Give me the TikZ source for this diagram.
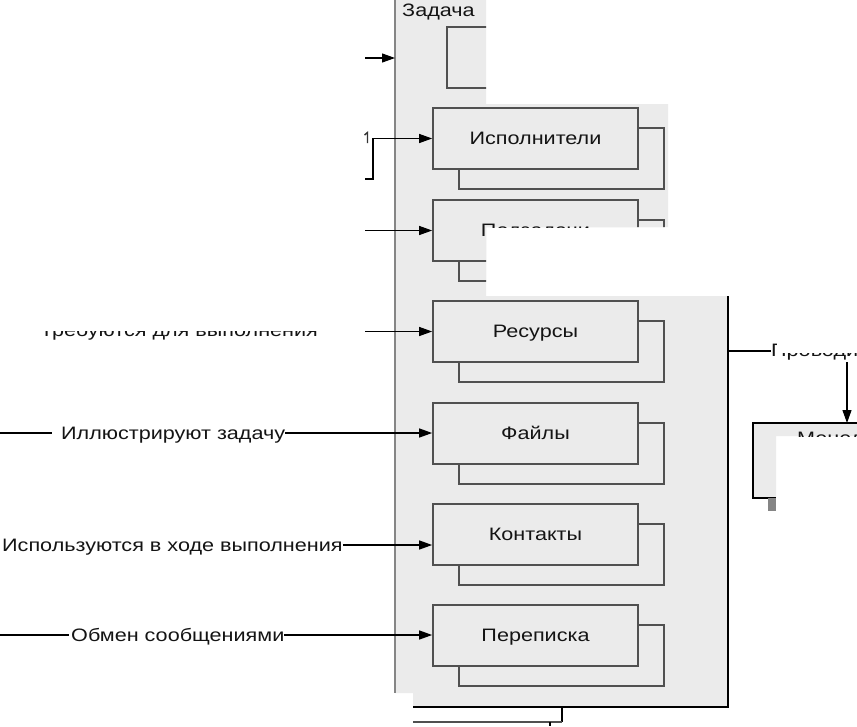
\documentclass[tikz,border=0pt]{standalone}
\usepackage{fontspec}
\setmainfont[FakeStretch=1.2]{Liberation Sans}
\usetikzlibrary{arrows.meta}
\definecolor{panelgrey}{HTML}{EBEBEB}
\definecolor{boxline}{HTML}{505050}
\definecolor{edgegrey}{HTML}{858585}
\begin{document}
\begin{tikzpicture}[x=1pt,y=-1pt,
  lbl/.style={font=\fontsize{18}{18}\selectfont, text=black!92, inner sep=0pt},
  frontbox/.style={draw=boxline, line width=1.7pt, fill=panelgrey, minimum width=205pt, minimum height=61pt, inner sep=0pt, text height=13pt, text depth=2pt, text=black!92, font=\fontsize{18}{18}\selectfont},
  backbox/.style={draw=boxline, line width=1.7pt, fill=panelgrey, minimum width=205pt, minimum height=61pt, inner sep=0pt},
  arr/.style={-{Triangle[length=13pt,width=9pt]}, line width=1.2pt, black},
  wire/.style={line width=1.2pt, black},
]
\useasboundingbox (0,0) rectangle (857,726);
\fill[white] (0,0) rectangle (857,726);

% grey panel (visible part)
\def\panelpath{(395,0) -- (486,0) -- (486,104) -- (668,104) -- (668,227) -- (486,227) -- (486,296) -- (728,296) -- (728,707) -- (413,707) -- (413,693) -- (395,693) -- cycle}
\fill[panelgrey] \panelpath;

\begin{scope}
  \clip \panelpath;
  % top box (cut)
  \draw[boxline, line width=1.7pt] (600,27) -- (447,27) -- (447,88) -- (600,88);
  % Исполнители
  \node[backbox] at (561.5,158.5) {};
  \node[frontbox] (isp) at (535.5,138.5) {Исполнители};
  % Подзадачи
  \node[backbox] at (561.5,250.5) {};
  \node[frontbox] (sub) at (535.5,230.5) {Подзадачи};
  % Ресурсы
  \node[backbox] at (561.5,351.5) {};
  \node[frontbox] (res) at (535.5,331.5) {Ресурсы};
  % Файлы
  \node[backbox] at (561.5,453.5) {};
  \node[frontbox] (files) at (535.5,433.5) {Файлы};
  % Контакты
  \node[backbox] at (561.5,554.5) {};
  \node[frontbox] (cont) at (535.5,534.5) {Контакты};
  % Переписка
  \node[backbox] at (561.5,655.5) {};
  \node[frontbox] (mail) at (535.5,635.5) {Переписка};
\end{scope}

% panel edges
\draw[edgegrey, line width=2pt] (395,0) -- (395,693);
\draw[wire] (413,707) -- (728,707) -- (728,296);
\node[lbl, anchor=base west] (zad) at (402,16) {Задача};

% bottom connector fragments
\coordinate (bt) at (562,707);
\coordinate (bk) at (562,722);
\coordinate (bl) at (413,722);
\draw[wire] (bt) -- (bk);
\draw[boxline, line width=1.7pt] (bk) -- (bl);
\coordinate (tk1) at (550,722);
\coordinate (tk2) at (550,726);
\draw[wire] (tk1) -- (tk2);

% top inputs
\coordinate (a0) at (365,58);
\coordinate (pl) at (395,58);
\draw[arr] (a0) -- (pl);

\coordinate (a1) at (365,179);
\coordinate (a1k) at (373,179);
\draw[arr] (a1) -- (a1k) |- (isp.west);
\draw[line width=1.4pt, black!80] (364.5,135) -- (367.5,132.5) -- (367.5,143);

\coordinate (a2) at (365,230.5);
\draw[arr] (a2) -- (sub.west);

% Требуются для выполнения (mostly hidden)
\begin{scope}
  \clip (0,331) rectangle (365,345);
  \node[lbl, anchor=base west] (treb) at (40,336) {Требуются для выполнения};
\end{scope}
\coordinate (a3) at (365,331.5);
\draw[arr] (a3) -- (res.west);

% Иллюстрируют задачу
\node[lbl, anchor=base west] (t1) at (61,439) {Иллюстрируют задачу};
\coordinate (f1) at (0,433);
\draw[wire, shorten >=9pt] (f1) -- (t1.west |- f1);
\draw[arr] (t1.east |- f1) -- (files.west |- f1);

% Используются в ходе выполнения
\node[lbl, anchor=base west] (t2) at (2,551) {Используются в ходе выполнения};
\coordinate (f2) at (0,545);
\draw[arr] (t2.east |- f2) -- (cont.west |- f2);

% Обмен сообщениями
\node[lbl, anchor=base west] (t3) at (71,641) {Обмен сообщениями};
\coordinate (f3) at (0,635);
\draw[wire, shorten >=2pt] (f3) -- (t3.west |- f3);
\draw[arr] (t3.east |- f3) -- (mail.west |- f3);

% right side: Проводит
\begin{scope}
  \clip (760,330) -- (776,330) -- (776,353) -- (857,353) -- (857,372) -- (760,372) -- cycle;
  \node[lbl, anchor=base west] (prov) at (771,356) {Проводит};
\end{scope}
\coordinate (pr) at (728,351);
\draw[wire] (pr) -- (prov.west |- pr);

% right box (cut)
\def\mpath{(753,423) -- (857,423) -- (857,436) -- (776,436) -- (776,498) -- (753,498) -- cycle}
\fill[panelgrey] \mpath;
\begin{scope}
  \clip \mpath;
  \node[lbl, anchor=base west] (men) at (797,444) {Менеджер};
\end{scope}
\draw[wire] (857,423) -- (753,423) -- (753,498) -- (776,498);
\fill[edgegrey] (768,498) rectangle (776,511);
\coordinate (d0) at (847,362);
\coordinate (mtop) at (847,423);
\draw[arr] (d0) -- (mtop);
\end{tikzpicture}
\end{document}
